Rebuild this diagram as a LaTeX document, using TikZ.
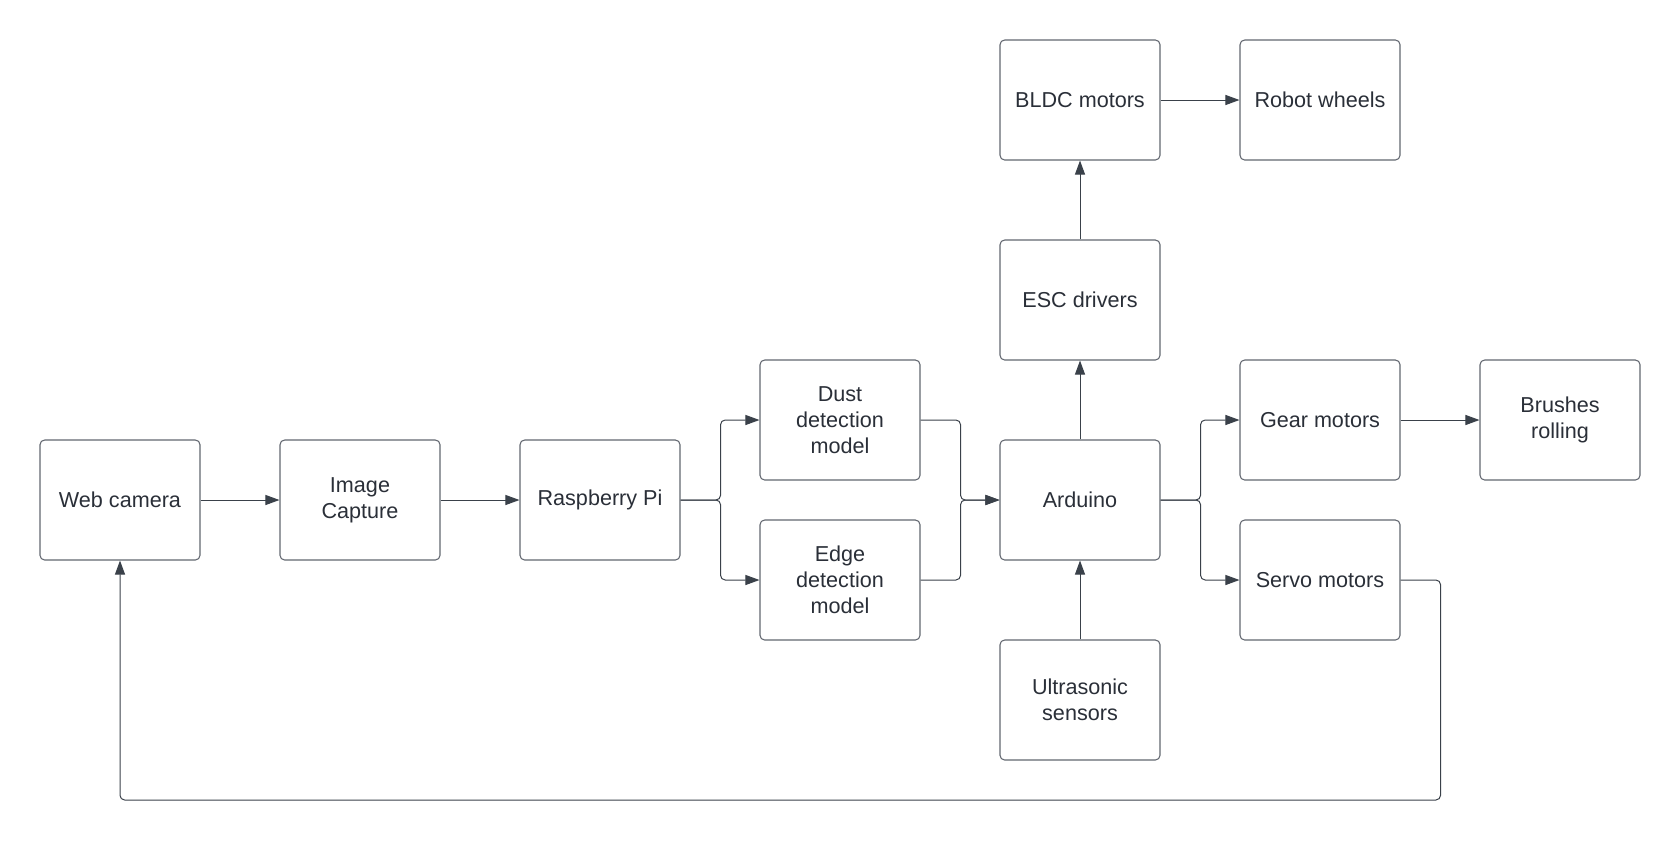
\documentclass[tikz,border=0pt]{standalone}
\usepackage{fontspec}
\setmainfont{Liberation Sans}
\usetikzlibrary{arrows.meta}

\definecolor{boxline}{RGB}{98,103,112}
\definecolor{wire}{RGB}{58,65,74}
\definecolor{ink}{RGB}{42,47,56}

\tikzset{every picture/.style={line width=0.75pt}}
\tikzset{
  blk/.style={draw=boxline, line width=0.8pt, rounded corners=3.5pt, fill=white,
    minimum width=120pt, minimum height=90pt, inner sep=2pt, align=center,
    text=ink, font=\fontsize{16.2}{19.5}\selectfont},
  arr/.style={draw=wire, line width=0.75pt, rounded corners=3.5pt,
    -{Triangle[length=10.5pt,width=7.5pt]}}
}

\begin{document}
\begin{tikzpicture}[x=0.75pt,y=0.75pt,yscale=-1,xscale=1]
\useasboundingbox (0,0) rectangle (1680,840);

% Boxes, main row
\node [blk] (cam) at (120,500) {Web camera};
\node [blk] (cap) at (360,500) {Image\\Capture};
\node [blk] (rpi) at (600,500) {Raspberry Pi};
\node [blk] (ard) at (1080,500) {Arduino};
% Boxes, detection models
\node [blk] (dust) at (840,420) {Dust\\detection\\model};
\node [blk] (edge) at (840,580) {Edge\\detection\\model};
% Boxes, drive side
\node [blk] (esc) at (1080,300) {ESC drivers};
\node [blk] (bldc) at (1080,100) {BLDC motors};
\node [blk] (wheel) at (1320,100) {Robot wheels};
\node [blk] (sonic) at (1080,700) {Ultrasonic\\sensors};
% Boxes, cleaning side
\node [blk] (gear) at (1320,420) {Gear motors};
\node [blk] (brush) at (1560,420) {Brushes\\rolling};
\node [blk] (servo) at (1320,580) {Servo motors};

% Straight arrows
\draw [arr] (cam) -- (cap);
\draw [arr] (cap) -- (rpi);
\draw [arr] (ard) -- (esc);
\draw [arr] (esc) -- (bldc);
\draw [arr] (bldc) -- (wheel);
\draw [arr] (sonic) -- (ard);
\draw [arr] (gear) -- (brush);
% Forks
\draw [arr] (rpi.east) -- ++(40,0) |- (dust.west);
\draw [arr] (rpi.east) -- ++(40,0) |- (edge.west);
\draw [arr] (dust.east) -- ++(40,0) |- (ard.west);
\draw [arr] (edge.east) -- ++(40,0) |- (ard.west);
\draw [arr] (ard.east) -- ++(40,0) |- (gear.west);
\draw [arr] (ard.east) -- ++(40,0) |- (servo.west);
% Feedback loop
\draw [arr] (servo.east) -- ++(40,0) -- ++(0,220) -| (cam.south);

\end{tikzpicture}
\end{document}
